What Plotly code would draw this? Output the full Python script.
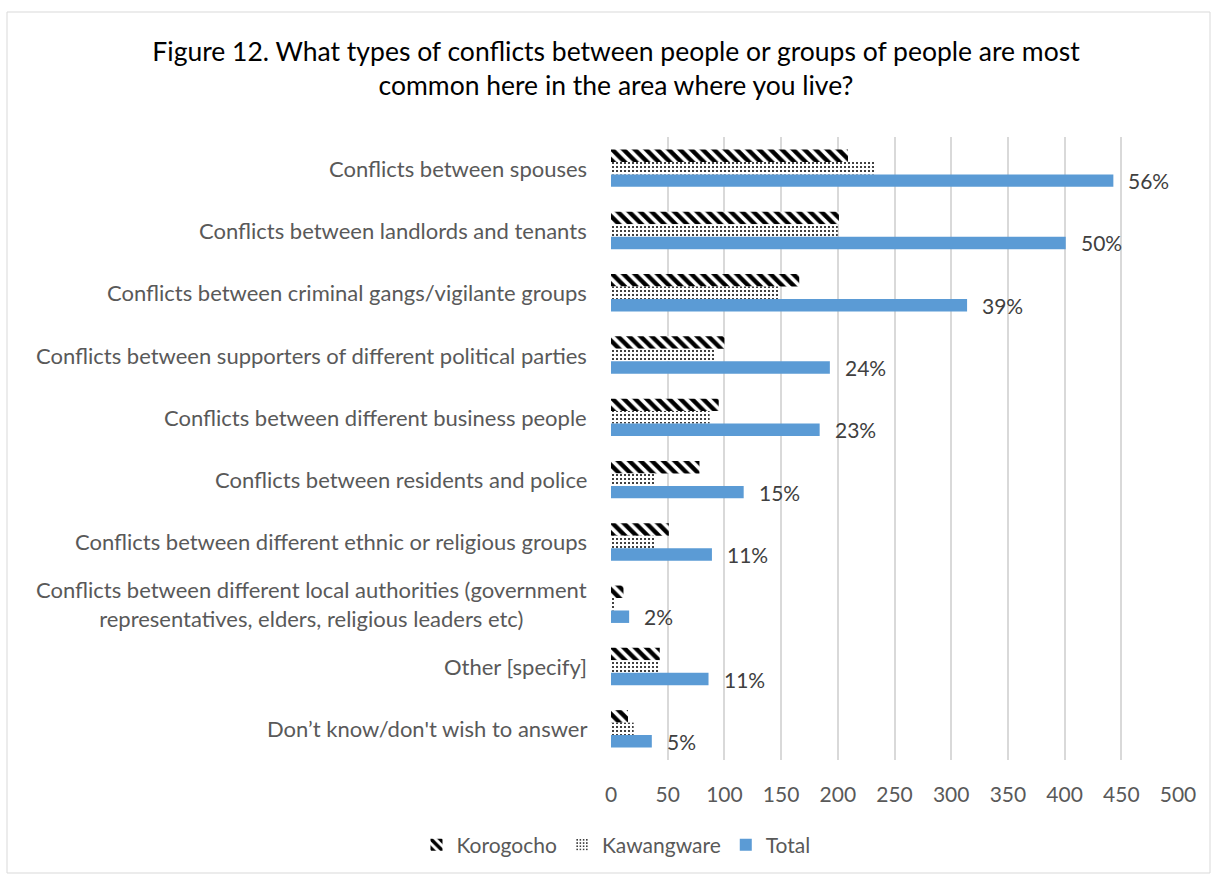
import plotly.graph_objects as go

# Survey categories (top to bottom)
categories = [
    "Conflicts between spouses",
    "Conflicts between landlords and tenants",
    "Conflicts between criminal gangs/vigilante groups",
    "Conflicts between supporters of different political parties",
    "Conflicts between different business people",
    "Conflicts between residents and police",
    "Conflicts between different ethnic or religious groups",
    "Conflicts between different local authorities (government<br>representatives, elders, religious leaders etc)",
    "Other [specify]",
    "Don\u2019t know/don't wish to answer",
]

korogocho = [209, 201, 166, 100, 95, 78, 51, 11, 43, 15]
kawangware = [233, 200, 148, 91, 87, 39, 38, 4, 43, 20]
total = [443, 401, 314, 193, 184, 117, 89, 16, 86, 36]
total_pct = ["56%", "50%", "39%", "24%", "23%", "15%", "11%", "2%", "11%", "5%"]

x_ticks = [0, 50, 100, 150, 200, 250, 300, 350, 400, 450, 500]

W, H = 1211, 874
L, R, T, B = 611, 33, 137, 114
PW, PH = W - L - R, H - T - B

FONT = "Lato"
GRAY = "#595959"

fig = go.Figure()
fig.add_trace(go.Bar(
    name="Korogocho", y=categories, x=korogocho, orientation="h",
    marker=dict(color="white", line=dict(width=0),
                pattern=dict(shape="\\", fgcolor="black", bgcolor="white",
                             size=8, solidity=0.55, fillmode="replace")),
))
fig.add_trace(go.Bar(
    name="Kawangware", y=categories, x=kawangware, orientation="h",
    marker=dict(color="white", line=dict(width=0),
                pattern=dict(shape=".", fgcolor="black", bgcolor="white",
                             size=4, solidity=0.2, fillmode="replace")),
))
fig.add_trace(go.Bar(
    name="Total", y=categories, x=total, orientation="h",
    marker=dict(color="#5B9BD5", line=dict(width=0)),
))

# Category labels, centred multi-line text right-aligned to the plot edge
for cat in categories:
    fig.add_annotation(
        x=0, xref="paper", y=cat, yref="y", text=cat, showarrow=False,
        xanchor="right", yanchor="middle", align="center", xshift=-22,
        font=dict(family=FONT, size=22, color=GRAY),
    )

# Percentage labels beside the Total bars
for i, (v, t) in enumerate(zip(total, total_pct)):
    fig.add_annotation(
        x=v, y=i + 0.2, xref="x", yref="y", text=t, showarrow=False,
        xanchor="left", yanchor="middle", xshift=13,
        font=dict(family=FONT, size=21, color="#404040"),
    )

# Outer chart border
fig.add_shape(
    type="rect", xref="paper", yref="paper",
    x0=(7 - L) / PW, x1=(W - 1 - L) / PW,
    y0=(H - B - (H - 1)) / PH, y1=(H - B - 12) / PH,
    line=dict(color="#D9D9D9", width=1), fillcolor="rgba(0,0,0,0)", layer="below",
)

fig.update_layout(
    width=W, height=H,
    margin=dict(l=L, r=R, t=T, b=B, autoexpand=False),
    paper_bgcolor="white", plot_bgcolor="white",
    barmode="group", bargap=0.4, bargroupgap=0,
    title=dict(
        text="Figure 12. What types of conflicts between people or groups of people are most<br>common here in the area where you live?",
        x=616 / W, xanchor="center", xref="container",
        y=1 - 61 / H, yanchor="top", yref="container",
        font=dict(family=FONT, size=26.5, color="black"),
    ),
    xaxis=dict(
        range=[0, 500], tickvals=x_ticks, showgrid=True, gridcolor="#D9D9D9",
        gridwidth=1.5, zeroline=False, showline=False, ticks="",
        ticklabelstandoff=20,
        tickfont=dict(family=FONT, size=21, color=GRAY),
    ),
    yaxis=dict(
        autorange="reversed", showticklabels=False, showgrid=False,
        zeroline=False, showline=False, ticks="",
    ),
    legend=dict(
        orientation="h", x=(616 - L) / PW, xanchor="center",
        y=(H - B - 845) / PH, yanchor="middle",
        font=dict(family=FONT, size=21, color=GRAY),
        itemwidth=30, traceorder="normal",
    ),
)

fig.write_html("out.html")
